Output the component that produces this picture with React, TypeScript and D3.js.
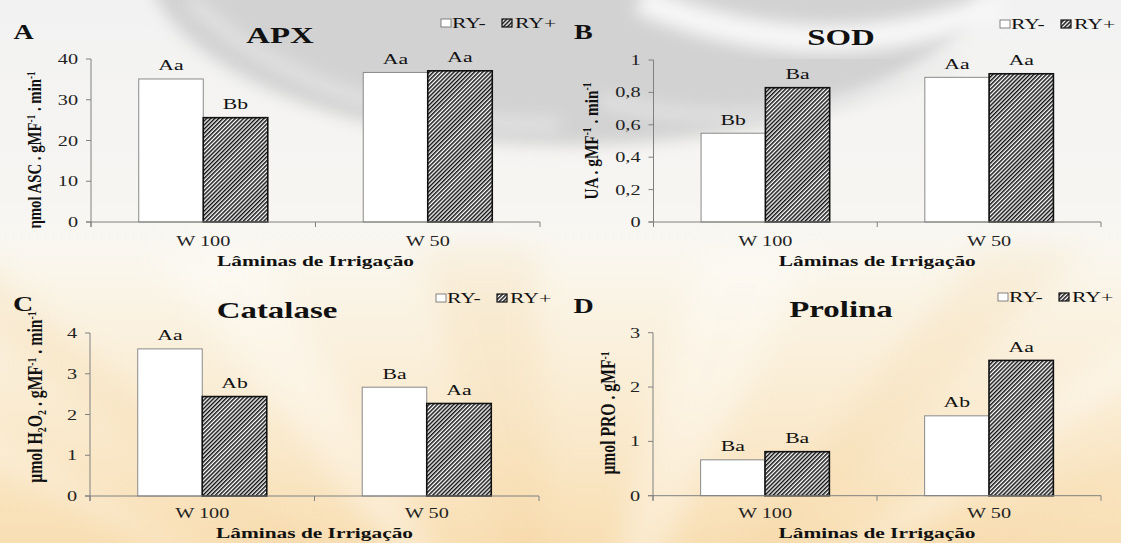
import React from "react";
import * as d3 from "d3";

// ---------- DATA ----------
const categories = ["W 100", "W 50"];
const seriesNames = ["RY-", "RY+"];

const apxMinus = [35.1, 36.7];
const apxPlus = [25.6, 37.1];
const apxMinusLetters = ["Aa", "Aa"];
const apxPlusLetters = ["Bb", "Aa"];
const apxTicks = [0, 10, 20, 30, 40];
const apxTickLabels = ["0", "10", "20", "30", "40"];

const sodMinus = [0.548, 0.893];
const sodPlus = [0.829, 0.915];
const sodMinusLetters = ["Bb", "Aa"];
const sodPlusLetters = ["Ba", "Aa"];
const sodTicks = [0, 0.2, 0.4, 0.6, 0.8, 1];
const sodTickLabels = ["0", "0,2", "0,4", "0,6", "0,8", "1"];

const catMinus = [3.61, 2.67];
const catPlus = [2.44, 2.27];
const catMinusLetters = ["Aa", "Ba"];
const catPlusLetters = ["Ab", "Aa"];
const catTicks = [0, 1, 2, 3, 4];
const catTickLabels = ["0", "1", "2", "3", "4"];

const proMinus = [0.66, 1.47];
const proPlus = [0.81, 2.49];
const proMinusLetters = ["Ba", "Ab"];
const proPlusLetters = ["Ba", "Aa"];
const proTicks = [0, 1, 2, 3];
const proTickLabels = ["0", "1", "2", "3"];

const xAxisTitle = "Lâminas de Irrigação";

// ---------- STYLE ----------
const FONT = "'Liberation Serif', 'Times New Roman', Times, serif";
const SX = 1.4;

function T({ x, y, size, weight = "normal", anchor = "middle", sx = SX, children, fill = "#111" }: any) {
  return (
    <text
      transform={`translate(${x},${y}) scale(${sx},1)`}
      fontSize={size}
      fontWeight={weight}
      textAnchor={anchor}
      fontFamily={FONT}
      fill={fill}
    >
      {children}
    </text>
  );
}

function YLabel({ x, y, kind, size }: any) {
  const common = {
    transform: `translate(${x},${y}) rotate(-90) scale(1,1.3)`,
    fontSize: size,
    fontWeight: "bold",
    textAnchor: "middle",
    fontFamily: FONT,
    fill: "#111",
  } as any;
  const ss = size * 0.62;
  if (kind === "A")
    return (
      <text {...common}>
        ηmol ASC . gMF<tspan dy={-5} fontSize={ss}>-1</tspan>
        <tspan dy={5}> . min</tspan>
        <tspan dy={-5} fontSize={ss}>-1</tspan>
      </text>
    );
  if (kind === "B")
    return (
      <text {...common}>
        UA . gMF<tspan dy={-5} fontSize={ss}>-1</tspan>
        <tspan dy={5}> . min</tspan>
        <tspan dy={-5} fontSize={ss}>-1</tspan>
      </text>
    );
  if (kind === "C")
    return (
      <text {...common}>
        μmol H<tspan dy={3} fontSize={ss}>2</tspan>
        <tspan dy={-3}>O</tspan>
        <tspan dy={3} fontSize={ss}>2</tspan>
        <tspan dy={-3}> . gMF</tspan>
        <tspan dy={-5} fontSize={ss}>-1</tspan>
        <tspan dy={5}> . min</tspan>
        <tspan dy={-5} fontSize={ss}>-1</tspan>
      </text>
    );
  return (
    <text {...common}>
      μmol PRO . gMF<tspan dy={-5} fontSize={ss}>-1</tspan>
    </text>
  );
}

const panels = [
  {
    key: "A", title: "APX", minus: apxMinus, plus: apxPlus, minusL: apxMinusLetters, plusL: apxPlusLetters,
    ticks: apxTicks, tickLabels: apxTickLabels, max: 40,
    lay: { x0: 91, x1: 540, yTop: 59, yBot: 222, letter: [13.6, 39], title: [280, 43], legend: [441, 28], ylab: [41, 150], ylabSize: 14.8, xtickY: 246, xlabY: 266 },
  },
  {
    key: "B", title: "SOD", minus: sodMinus, plus: sodPlus, minusL: sodMinusLetters, plusL: sodPlusLetters,
    ticks: sodTicks, tickLabels: sodTickLabels, max: 1,
    lay: { x0: 653.5, x1: 1101, yTop: 60, yBot: 222, letter: [574, 39], title: [841, 45], legend: [1000, 29], ylab: [597.6, 141], ylabSize: 15.3, xtickY: 246, xlabY: 266 },
  },
  {
    key: "C", title: "Catalase", minus: catMinus, plus: catPlus, minusL: catMinusLetters, plusL: catPlusLetters,
    ticks: catTicks, tickLabels: catTickLabels, max: 4,
    lay: { x0: 90, x1: 539, yTop: 333, yBot: 496, letter: [13, 311], title: [277, 318], legend: [436, 303], ylab: [42, 397], ylabSize: 15.8, xtickY: 518, xlabY: 538 },
  },
  {
    key: "D", title: "Prolina", minus: proMinus, plus: proPlus, minusL: proMinusLetters, plusL: proPlusLetters,
    ticks: proTicks, tickLabels: proTickLabels, max: 3,
    lay: { x0: 653, x1: 1101, yTop: 332.7, yBot: 495.7, letter: [573.6, 313], title: [841, 317], legend: [998, 302], ylab: [615, 413], ylabSize: 15.7, xtickY: 518, xlabY: 538 },
  },
];

const AXIS = "#808080";

function Panel({ p }: any) {
  const L = p.lay;
  const x = d3.scaleBand<string>().domain(categories).range([L.x0, L.x1]).paddingInner(0).paddingOuter(0);
  const x1 = d3.scaleBand<string>().domain(seriesNames).range([0, x.bandwidth()]).paddingInner(0).paddingOuter(0.74);
  const y = d3.scaleLinear().domain([0, p.max]).range([L.yBot, L.yTop]);
  const vals = [p.minus, p.plus];
  const lets = [p.minusL, p.plusL];
  const bounds = [L.x0, ...categories.map((c) => (x(c) as number) + x.bandwidth())];
  const [lx, ly] = L.legend;
  return (
    <g>
      <T x={L.letter[0]} y={L.letter[1]} size={20} weight="bold" anchor="start">{p.key}</T>
      <T x={L.title[0]} y={L.title[1]} size={23.5} weight="bold">{p.title}</T>
      {/* legend */}
      <rect x={lx} y={ly - 9} width={10} height={8} fill="#fff" stroke="#666" strokeWidth={0.8} />
      <T x={lx + 11} y={ly} size={15} anchor="start" sx={1.45}>{seriesNames[0]}</T>
      <rect x={lx + 61} y={ly - 9} width={10} height={8} fill="url(#hatch)" stroke="#111" strokeWidth={1.2} />
      <T x={lx + 74} y={ly} size={15} anchor="start" sx={1.45}>{seriesNames[1]}</T>
      {/* bars */}
      {categories.map((c, ci) =>
        seriesNames.map((s, si) => {
          const bx = (x(c) as number) + (x1(s) as number);
          const bw = x1.bandwidth();
          const v = vals[si][ci];
          const top = y(v);
          return (
            <g key={c + s}>
              <rect
                x={bx}
                y={top}
                width={bw}
                height={L.yBot - top}
                fill={si === 0 ? "#fff" : "url(#hatch)"}
                stroke={si === 0 ? "#8a8a8a" : "#111"}
                strokeWidth={si === 0 ? 1 : 1.6}
              />
              <T x={bx + bw / 2} y={top - 8.5} size={15.5} sx={1.4}>{lets[si][ci]}</T>
            </g>
          );
        })
      )}
      {/* y axis */}
      <line x1={L.x0} x2={L.x0} y1={L.yTop} y2={L.yBot + 5} stroke={AXIS} strokeWidth={1} />
      {p.ticks.map((t: number, i: number) => (
        <g key={t}>
          <line x1={L.x0 - 5} x2={L.x0} y1={y(t)} y2={y(t)} stroke={AXIS} strokeWidth={1} />
          <T x={L.x0 - 13} y={y(t) + 5} size={15} anchor="end" sx={1.35} fill="#222">{p.tickLabels[i]}</T>
        </g>
      ))}
      {/* x axis */}
      <line x1={L.x0 - 5} x2={L.x1} y1={L.yBot} y2={L.yBot} stroke={AXIS} strokeWidth={1} />
      {bounds.map((b, i) => (
        <line key={i} x1={b} x2={b} y1={L.yBot} y2={L.yBot + 5} stroke={AXIS} strokeWidth={1} />
      ))}
      {categories.map((c) => (
        <T key={c} x={(x(c) as number) + x.bandwidth() / 2} y={L.xtickY} size={15} sx={1.35} fill="#222">{c}</T>
      ))}
      <T x={(L.x0 + L.x1) / 2} y={L.xlabY} size={15.5} weight="bold" sx={1.38}>{xAxisTitle}</T>
      <YLabel x={L.ylab[0]} y={L.ylab[1]} kind={p.key} size={L.ylabSize} />
    </g>
  );
}

function Background() {
  const rays = [
    [-400, 180], [-120, 260], [150, 310], [420, 330], [700, 330], [980, 300], [1250, 250], [1520, 180],
  ];
  return (
    <g>
      <rect x={0} y={0} width={1121} height={543} fill="url(#bgGrad)" />
      <ellipse cx={570} cy={-45} rx={425} ry={190} fill="#d2d2d2" filter="url(#blur)" />
      <path d="M 640 0 Q 820 75 1000 5" stroke="#f7f7f7" strokeWidth={28} fill="none" filter="url(#blur)" />
      <path d="M 190 0 Q 320 125 560 125" stroke="#e6e6e6" strokeWidth={14} fill="none" filter="url(#blur)" opacity={0.8} />
      <path d="M 600 100 Q 780 145 960 60" stroke="#e8e8e8" strokeWidth={12} fill="none" filter="url(#blur)" opacity={0.8} />
      <rect x={0} y={230} width={1121} height={313} fill="url(#warm)" />
      {rays.map(([tx, w], i) => (
        <polygon
          key={i}
          points={`560,760 ${tx},250 ${tx + w * 0.35},250`}
          fill={i % 2 === 0 ? "#ffffff" : "#f3cf96"}
          opacity={i % 2 === 0 ? 0.35 : 0.2}
          filter="url(#blur2)"
        />
      ))}
    </g>
  );
}

export default function App() {
  return (
    <svg
      width={1121}
      height={543}
      viewBox="0 0 1121 543"
      style={{ position: "absolute", left: 0, top: 0, display: "block" }}
    >
      <defs>
        <linearGradient id="bgGrad" x1="0" y1="0" x2="0" y2="1">
          <stop offset="0" stopColor="#f2f2f2" />
          <stop offset="0.35" stopColor="#f6f5f2" />
          <stop offset="0.5" stopColor="#faf8f1" />
          <stop offset="1" stopColor="#faf0dc" />
        </linearGradient>
        <linearGradient id="warm" x1="0" y1="0" x2="0" y2="1">
          <stop offset="0" stopColor="#fbe7c2" stopOpacity="0" />
          <stop offset="0.5" stopColor="#fae6c3" stopOpacity="0.5" />
          <stop offset="1" stopColor="#f8dcae" stopOpacity="0.9" />
        </linearGradient>
        <filter id="blur" x="-20%" y="-50%" width="140%" height="200%">
          <feGaussianBlur stdDeviation="8" />
        </filter>
        <filter id="blur2" x="-20%" y="-20%" width="140%" height="140%">
          <feGaussianBlur stdDeviation="14" />
        </filter>
        <pattern id="hatch" patternUnits="userSpaceOnUse" width="2.9" height="6" patternTransform="rotate(45)">
          <rect x="0" y="0" width="2.9" height="6" fill="#fff" />
          <rect x="0" y="0" width="1.5" height="6" fill="#111" />
        </pattern>
      </defs>
      <Background />
      {panels.map((p) => (
        <Panel key={p.key} p={p} />
      ))}
    </svg>
  );
}
